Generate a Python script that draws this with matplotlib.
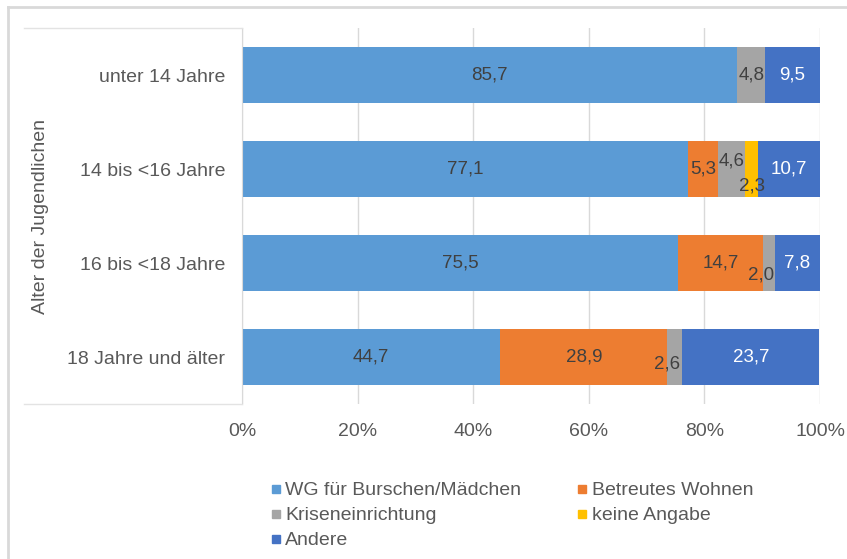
import numpy as np
import matplotlib.pyplot as plt
from matplotlib.lines import Line2D

plt.rcParams['font.family'] = ['Liberation Sans', 'DejaVu Sans']

# data (percent shares per age group)
categories = ["unter 14 Jahre", "14 bis <16 Jahre", "16 bis <18 Jahre", "18 Jahre und älter"]
series = ["WG für Burschen/Mädchen", "Betreutes Wohnen", "Kriseneinrichtung", "keine Angabe", "Andere"]
wg = [85.7, 77.1, 75.5, 44.7]
betreut = [0.0, 5.3, 14.7, 28.9]
krise = [4.8, 4.6, 2.0, 2.6]
keine = [0.0, 2.3, 0.0, 0.0]
andere = [9.5, 10.7, 7.8, 23.7]

colors = ["#5B9BD5", "#ED7D31", "#A5A5A5", "#FFC000", "#4472C4"]
label_colors = ["#404040", "#404040", "#404040", "#404040", "white"]
# small label nudges (points) for the narrow segments, keyed by (series, category)
nudge = {(2, 1): (0, 6), (3, 1): (0, -12), (2, 2): (-6, -9), (2, 3): (-6, -5)}

grey = "#595959"
fig = plt.figure(figsize=(8.47, 5.59), dpi=100)
ax = fig.add_axes([242 / 847, 1 - 404 / 559, 578 / 847, 376 / 559])

values = np.array([wg, betreut, krise, keine, andere])
y = np.arange(len(categories))[::-1]
left = np.zeros(len(categories))
handles = []
for i, name in enumerate(series):
    ax.barh(y, values[i], left=left, height=0.59, color=colors[i], zorder=2)
    for j, v in enumerate(values[i]):
        if v <= 0:
            continue
        dx, dy = nudge.get((i, j), (0, 0))
        ax.annotate(f"{v:.1f}".replace(".", ","), (left[j] + v / 2, y[j]),
                    xytext=(dx, dy), textcoords="offset points",
                    ha="center", va="center", fontsize=13.5,
                    color=label_colors[i], zorder=3)
    left += values[i]
    handles.append(Line2D([], [], marker="s", linestyle="none",
                          markersize=6, color=colors[i], label=name))

ax.set_xlim(0, 100)
ax.set_ylim(-0.5, len(categories) - 0.5)
ax.set_xticks(np.arange(0, 101, 20))
ax.set_xticklabels([f"{t}%" for t in range(0, 101, 20)])
ax.set_yticks(y)
ax.set_yticklabels(categories)
ax.tick_params(axis="both", length=0, labelsize=14, labelcolor=grey)
ax.tick_params(axis="x", pad=14)
ax.tick_params(axis="y", pad=12)
ax.grid(axis="x", color="#D9D9D9", linewidth=1, zorder=0)
for s in ["top", "right", "bottom"]:
    ax.spines[s].set_visible(False)
ax.spines["left"].set_color("#D9D9D9")
ax.set_ylabel("Alter der Jugendlichen", fontsize=14, color=grey, labelpad=13)

# frame lines of the cropped screenshot
W, H = 847, 559
def fline(x0, y0, x1, y1, lw=1.0, c="#D9D9D9"):
    fig.add_artist(Line2D([x0 / W, x1 / W], [1 - y0 / H, 1 - y1 / H], color=c, linewidth=lw))
fline(8, 7, 847, 7, lw=2)
fline(8, 7, 8, 559, lw=2)
fline(24, 28, 242, 28, c="#E3E3E3")
fline(24, 404, 242, 404, c="#E3E3E3")

order = [0, 2, 4, 1, 3]
fig.legend([handles[k] for k in order], [series[k] for k in order],
           loc="upper left", bbox_to_anchor=(258 / W, 1 - 472 / H), ncol=2,
           frameon=False, fontsize=14, labelcolor=grey, handletextpad=0.1,
           handlelength=0.8, columnspacing=2.75, labelspacing=0.38, borderpad=0)

fig.savefig("out.png", dpi=100)
